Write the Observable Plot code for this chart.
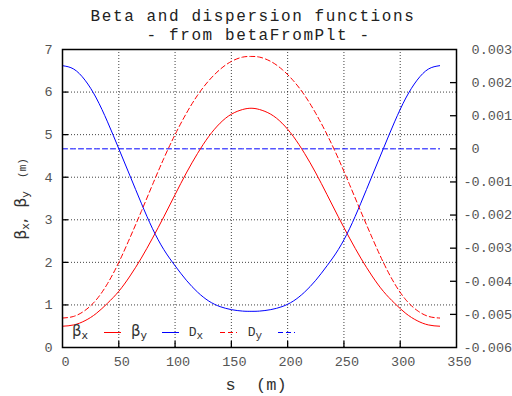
<!DOCTYPE html>
<html>
<head>
<meta charset="utf-8">
<script src="https://cdn.jsdelivr.net/npm/d3@7"></script>
<script src="https://cdn.jsdelivr.net/npm/@observablehq/plot@0.6"></script>
<style>
  html, body { margin: 0; padding: 0; background: #fff; }
  #chart { position: relative; width: 512px; height: 396px; }
</style>
</head>
<body>
<div id="chart"></div>
<script>
// ---- data ----
const sPos = [0,10,20,30,40,50,60,70,80,90,100,110,120,130,140,150,160,167.5,
              175,185,195,205,215,225,235,245,255,265,275,285,295,305,315,325,335];
// beta_x (m), red solid
const betaX = [0.50,0.53,0.63,0.80,1.04,1.32,1.68,2.10,2.57,3.07,3.59,4.10,4.56,4.96,5.27,5.48,5.59,5.62,
               5.59,5.48,5.27,4.96,4.56,4.10,3.59,3.07,2.57,2.10,1.68,1.32,1.04,0.80,0.63,0.53,0.50];
// beta_y (m), blue solid
const betaY = [6.62,6.54,6.28,5.86,5.30,4.67,4.03,3.39,2.79,2.30,1.92,1.58,1.30,1.09,0.96,0.89,0.855,0.85,
               0.855,0.89,0.96,1.09,1.30,1.58,1.92,2.30,2.79,3.39,4.03,4.67,5.30,5.86,6.28,6.54,6.62];
// D_x (m), red dashed, right axis
const dispX = [-0.00511,-0.00506,-0.00488,-0.00456,-0.00407,-0.00343,-0.00268,-0.00189,-0.00108,-0.00029,
               0.00043,0.00107,0.00162,0.00206,0.00240,0.00264,0.00277,0.00279,
               0.00277,0.00264,0.00240,0.00206,0.00162,0.00107,0.00043,-0.00029,-0.00108,-0.00189,
               -0.00268,-0.00343,-0.00407,-0.00456,-0.00488,-0.00506,-0.00511];
// D_y (m), blue dashed, right axis
const dispY = [0,0,0,0,0,0,0,0,0,0,0,0,0,0,0,0,0,0,0,0,0,0,0,0,0,0,0,0,0,0,0,0,0,0,0];

const xTicks = [0,50,100,150,200,250,300,350];
const yTicks = [0,1,2,3,4,5,6,7];
const y2Ticks = [-0.006,-0.005,-0.004,-0.003,-0.002,-0.001,0,0.001,0.002,0.003];
const y2Domain = [-0.006, 0.003];
const yDomain = [0, 7];

const titleLines = ["Beta and dispersion functions", " - from betaFromPlt -"];
const xLabel = "s  (m)";

// ---- build ----
const toLeft = d => yDomain[0] + (d - y2Domain[0]) / (y2Domain[1] - y2Domain[0]) * (yDomain[1] - yDomain[0]);
const rows = sPos.map((s, i) => ({s, bx: betaX[i], by: betaY[i], dx: dispX[i], dy: dispY[i]}));

const W = 512, H = 396, ML = 62, MR = 56, MT = 49, MB = 49;
const PW = W - ML - MR, PH = H - MT - MB;
const RED = "#ff0000", BLUE = "#0000ff";
const DASH = "5,3";
const fmt2 = v => (v >= 0 ? "\u00a0" : "") + (v === 0 ? "0" : (v < 0 ? "-" : "") + Math.abs(v).toFixed(3));

const chart = Plot.plot({
  width: W, height: H,
  marginLeft: ML, marginRight: MR, marginTop: MT, marginBottom: MB,
  style: {fontFamily: "'Liberation Mono', monospace", fontSize: "13.5px", color: "#555", background: "#fff", overflow: "visible"},
  x: {domain: [0, 350], label: null},
  y: {domain: yDomain, label: null},
  marks: [
    Plot.gridX(xTicks.slice(1, -1), {stroke: "#000", strokeOpacity: 0.75, strokeDasharray: "1,2"}),
    Plot.gridY(yTicks.slice(1, -1), {stroke: "#000", strokeOpacity: 0.75, strokeDasharray: "1,2"}),
    Plot.line(rows, {x: "s", y: d => toLeft(d.dy), stroke: BLUE, strokeWidth: 1, strokeDasharray: DASH}),
    Plot.line(rows, {x: "s", y: "bx", stroke: RED, strokeWidth: 1, curve: "natural"}),
    Plot.line(rows, {x: "s", y: "by", stroke: BLUE, strokeWidth: 1, curve: "natural"}),
    Plot.line(rows, {x: "s", y: d => toLeft(d.dx), stroke: RED, strokeWidth: 1, strokeDasharray: DASH, curve: "natural"}),
    Plot.axisX(xTicks, {tickSize: 0, tickPadding: 9, dx: 3, tickFormat: d => String(d), fill: "#555"}),
    Plot.axisY(yTicks, {tickSize: 0, tickPadding: 10, tickFormat: d => String(d), fill: "#555"}),
    Plot.axisY(y2Ticks.map(toLeft), {anchor: "right", tickSize: 0, tickPadding: 7,
      tickFormat: (d, i) => fmt2(y2Ticks[i]), fill: "#555"}),
    Plot.tickX(xTicks.slice(1, -1), {x: d => d, insetTop: PH - 6, stroke: "#000", strokeWidth: 1.3}),
    Plot.tickY(yTicks.slice(1, -1), {y: d => d, insetRight: PW - 6, stroke: "#000", strokeWidth: 1.3}),
    Plot.tickY(y2Ticks.slice(1, -1).map(toLeft), {y: d => d, insetLeft: PW - 6, stroke: "#000", strokeWidth: 1.3}),
    Plot.frame({stroke: "#000", strokeWidth: 1.5})
  ]
});
document.getElementById("chart").appendChild(chart);

// ---- annotations (title, axis labels, legend) ----
const svg = d3.select(chart);
const mono = "'Liberation Mono', monospace";
const greek = "'DejaVu Sans', sans-serif";

// title (two lines, Courier-like wide spacing)
const tt = svg.append("text").attr("text-anchor", "middle")
  .attr("font-family", mono).attr("font-size", 16).attr("letter-spacing", 1.6).attr("fill", "#222")
  .attr("xml:space", "preserve").style("white-space", "pre");
tt.append("tspan").attr("x", 253).attr("y", 21).text(titleLines[0]);
tt.append("tspan").attr("x", 253).attr("y", 39.5).text(titleLines[1]);

// x label
svg.append("text").attr("x", 256).attr("y", 390).attr("text-anchor", "middle")
  .attr("font-family", mono).attr("font-size", 17).attr("fill", "#333")
  .attr("xml:space", "preserve").style("white-space", "pre").text(xLabel);

// y label (rotated)
const yl = svg.append("text").attr("transform", "translate(26,199) rotate(-90)")
  .attr("text-anchor", "middle").attr("fill", "#333")
  .attr("xml:space", "preserve").style("white-space", "pre");
yl.append("tspan").attr("font-family", greek).attr("font-size", 16).text("β");
yl.append("tspan").attr("font-family", greek).attr("font-size", 11).attr("dy", 3).text("x");
yl.append("tspan").attr("font-family", greek).attr("font-size", 16).attr("dy", -3).text(",  β");
yl.append("tspan").attr("font-family", greek).attr("font-size", 11).attr("dy", 3).text("y");
yl.append("tspan").attr("font-family", mono).attr("font-size", 11).attr("dy", -3).text("  (m)");

// legend
const legend = [
  {main: "β", sub: "x", greek: true, color: RED, dash: null, tx: 80, lx: 104},
  {main: "β", sub: "y", greek: true, color: BLUE, dash: null, tx: 139, lx: 162},
  {main: "D", sub: "x", greek: false, color: RED, dash: DASH, tx: 196, lx: 220},
  {main: "D", sub: "y", greek: false, color: BLUE, dash: DASH, tx: 255, lx: 278}
];
const lg = svg.append("g");
legend.forEach(it => {
  const t = lg.append("text").attr("x", it.tx).attr("y", 336).attr("fill", "#333");
  t.append("tspan").attr("font-family", it.greek ? greek : mono).attr("font-size", it.greek ? 15 : 13).text(it.main);
  t.append("tspan").attr("font-family", it.greek ? greek : mono).attr("font-size", 11).attr("dy", 3).text(it.sub);
  const ln = lg.append("line").attr("x1", it.lx).attr("x2", it.lx + 17).attr("y1", 332.5).attr("y2", 332.5)
    .attr("stroke", it.color).attr("stroke-width", 1);
  if (it.dash) ln.attr("stroke-dasharray", it.dash);
});
</script>
</body>
</html>
